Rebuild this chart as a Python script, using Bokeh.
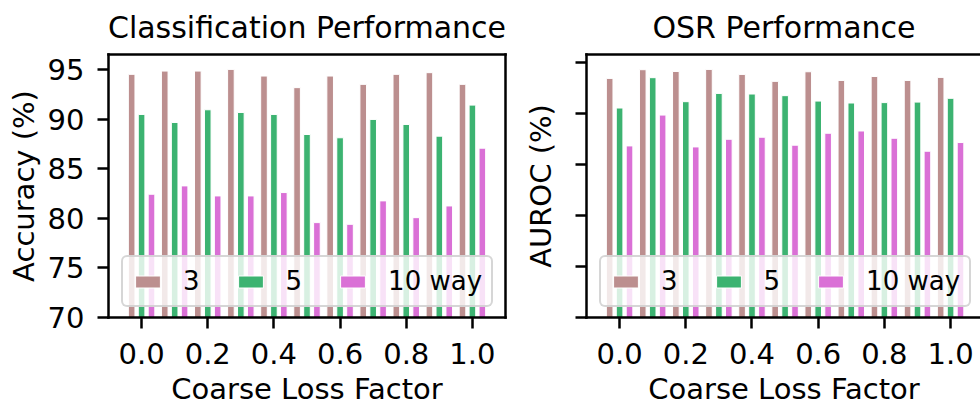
from bokeh.plotting import figure
from bokeh.models import (FixedTicker, NumeralTickFormatter, Legend, LegendItem,
                          LinearAxis, Range1d, CustomJSTickFormatter, ColumnDataSource)
from bokeh.layouts import row
from bokeh.transform import dodge
from bokeh.embed import file_html
from bokeh.resources import INLINE

# Coarse loss factor values (x positions of the bar groups)
factors = [0.0, 0.1, 0.2, 0.3, 0.4, 0.5, 0.6, 0.7, 0.8, 0.9, 1.0]
x_ticks = [0.0, 0.2, 0.4, 0.6, 0.8, 1.0]
y_ticks = [70, 75, 80, 85, 90, 95]

way_labels = ["3", "5", "10 way"]
way_colors = ["#BC8F8F", "#3CB371", "#DA70D6"]

# Classification accuracy (%)
acc_3 = [94.50, 94.83, 94.83, 95.00, 94.33, 93.16, 94.33, 93.49, 94.50, 94.67, 93.49]
acc_5 = [90.46, 89.65, 90.93, 90.66, 90.46, 88.44, 88.11, 89.96, 89.45, 88.27, 91.40]
acc_10 = [82.42, 83.26, 82.25, 82.25, 82.59, 79.56, 79.39, 81.75, 80.06, 81.24, 87.06]

# Open-set recognition AUROC (%)
auroc_3 = [93.41, 94.26, 94.09, 94.29, 93.80, 93.12, 94.06, 93.21, 93.60, 93.21, 93.51]
auroc_5 = [90.51, 93.48, 91.13, 91.94, 91.88, 91.72, 91.19, 91.00, 91.04, 91.09, 91.46]
auroc_10 = [86.80, 89.82, 86.70, 87.45, 87.65, 86.87, 88.04, 88.26, 87.55, 86.28, 87.13]

FONT = "DejaVu Sans"
BAR_W = 0.02
OFFSETS = [-0.03, 0.0, 0.03]
SPINE_W = 2.5


def style_axis(ax):
    ax.axis_line_width = SPINE_W
    ax.axis_line_cap = "square"
    ax.major_tick_line_width = SPINE_W
    ax.minor_tick_line_color = None
    ax.major_tick_in = 0
    ax.major_label_text_font = FONT
    ax.major_label_text_font_size = "29px"
    ax.major_label_text_color = "black"
    ax.axis_label_text_font = FONT
    ax.axis_label_text_font_size = "29px"
    ax.axis_label_text_font_style = "normal"
    ax.axis_label_text_color = "black"


def bare_spine(p, side):
    ax = LinearAxis(ticker=FixedTicker(ticks=[]), axis_line_width=SPINE_W,
                    axis_line_cap="square", major_tick_out=0, major_tick_in=0,
                    minor_tick_out=0, minor_tick_in=0, major_label_standoff=0,
                    axis_label_standoff=0)
    p.add_layout(ax, side)


def make_panel(title, ylabel, s3, s5, s10, x_end, y_end, show_ylabels,
               frame_w, b_left, b_right):
    p = figure(output_backend="svg", toolbar_location=None,
               frame_width=frame_w, frame_height=263,
               min_border_left=b_left, min_border_right=b_right,
               min_border_top=54, min_border_bottom=88,
               x_range=Range1d(-0.1, x_end), y_range=Range1d(70, y_end),
               background_fill_color="white", border_fill_color="white")
    p.outline_line_color = None
    p.xgrid.visible = False
    p.ygrid.visible = False

    p.title.text = title
    p.title.align = "center"
    p.title.vertical_align = "top"
    p.title.text_font = FONT
    p.title.text_font_size = "30px"
    p.title.text_font_style = "normal"
    p.title.text_color = "black"
    p.title.standoff = 15

    src = ColumnDataSource(dict(x=factors, a=s3, b=s5, c=s10))
    renderers = []
    for field, off, col in zip(["a", "b", "c"], OFFSETS, way_colors):
        r = p.vbar(x=dodge("x", off), top=field, bottom=60, width=BAR_W,
                   source=src, fill_color=col, line_color="white",
                   line_width=1)
        renderers.append(r)

    xa = p.xaxis[0]
    style_axis(xa)
    xa.ticker = FixedTicker(ticks=x_ticks)
    xa.formatter = NumeralTickFormatter(format="0.0")
    xa.major_tick_out = 11
    xa.major_label_standoff = 14
    xa.axis_label = "Coarse Loss Factor"
    xa.axis_label_standoff = 5

    ya = p.yaxis[0]
    style_axis(ya)
    ya.ticker = FixedTicker(ticks=y_ticks)
    ya.major_tick_out = 11
    ya.axis_label = ylabel
    if show_ylabels:
        ya.major_label_standoff = 13
        ya.axis_label_standoff = 4
    else:
        ya.formatter = CustomJSTickFormatter(code="return ''")
        ya.major_label_standoff = 0
        ya.axis_label_standoff = 18

    bare_spine(p, "above")

    items = [LegendItem(label=lab, renderers=[r])
             for lab, r in zip(way_labels, renderers)]
    legend = Legend(items=items, orientation="horizontal", location=(13, 10),
                    glyph_width=31, glyph_height=15, label_standoff=20,
                    label_width=0, spacing=35, padding=9,
                    label_text_font=FONT, label_text_font_size="26px",
                    label_text_color="black",
                    background_fill_color="white", background_fill_alpha=0.8,
                    border_line_color="#cccccc", border_line_width=2.5,
                    border_line_alpha=0.8)
    if "border_radius" in Legend.properties():
        legend.border_radius = 6
    p.add_layout(legend, "center")
    return p


left = make_panel("Classification Performance", "Accuracy (%)",
                  acc_3, acc_5, acc_10, 1.1, 96.5, True, 397, 108, 15)
bare_spine(left, "right")

right = make_panel("OSR Performance", "AUROC (%)",
                   auroc_3, auroc_5, auroc_10, 1.0934, 95.75, False, 395, 65, 0)

layout = row(left, right, spacing=0)

open("out.html", "w").write(file_html(layout, INLINE))
